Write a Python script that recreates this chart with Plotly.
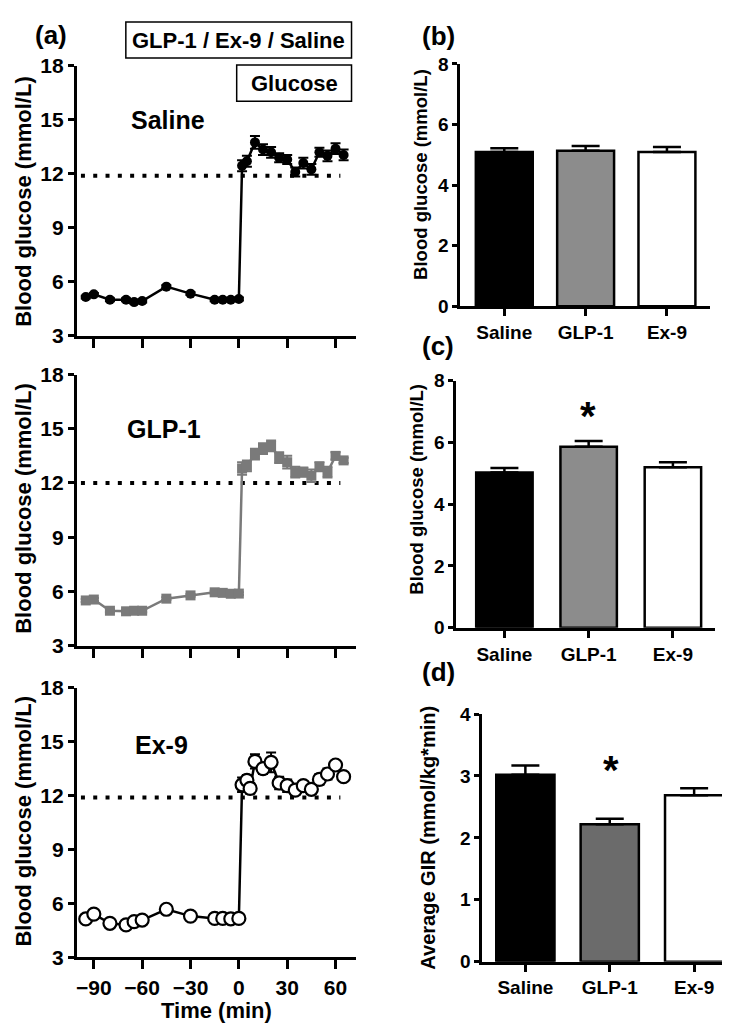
import plotly.graph_objects as go

W, H = 730, 1024
FONT = "Liberation Sans, Arial, sans-serif"

# ---------------- data: panel (a) time courses ----------------
time_pre = [-95, -90, -80, -70, -65, -60, -45, -30, -15, -10, -5, 0]
time_post_saline = [2, 5, 10, 15, 20, 25, 30, 35, 40, 45, 50, 55, 60, 65]
time_post_glp1 = [2, 5, 10, 15, 20, 25, 30, 35, 40, 45, 50, 55, 60, 65]
time_post_ex9 = [2, 5, 7, 10, 15, 20, 25, 30, 35, 40, 45, 50, 55, 60, 65]

saline_pre = [5.15, 5.3, 5.0, 5.0, 4.87, 4.93, 5.73, 5.34, 5.0, 5.0, 5.0, 5.04]
saline_pre_se = [0.08, 0.08, 0.08, 0.08, 0.08, 0.08, 0.08, 0.08, 0.08, 0.08, 0.08, 0.08]
saline_post = [12.45, 12.7, 13.75, 13.35, 13.2, 12.9, 12.8, 12.1, 12.6, 12.25, 13.2, 13.0, 13.4, 13.05]
saline_post_se = [0.3, 0.3, 0.35, 0.3, 0.3, 0.25, 0.25, 0.25, 0.3, 0.3, 0.25, 0.3, 0.3, 0.3]

glp1_pre = [5.5, 5.55, 4.93, 4.9, 4.93, 4.93, 5.6, 5.78, 5.95, 5.92, 5.87, 5.88]
glp1_pre_se = [0.08, 0.08, 0.08, 0.08, 0.08, 0.08, 0.08, 0.08, 0.08, 0.08, 0.08, 0.08]
glp1_post = [12.8, 12.95, 13.6, 13.9, 14.05, 13.4, 13.15, 12.6, 12.6, 12.4, 12.9, 12.6, 13.5, 13.25]
glp1_post_se = [0.35, 0.3, 0.3, 0.3, 0.3, 0.3, 0.35, 0.3, 0.25, 0.35, 0.25, 0.3, 0.2, 0.15]

ex9_pre = [5.14, 5.41, 4.9, 4.81, 4.99, 5.08, 5.68, 5.3, 5.17, 5.17, 5.15, 5.17]
ex9_pre_se = [0.08, 0.08, 0.08, 0.08, 0.08, 0.08, 0.08, 0.08, 0.08, 0.08, 0.08, 0.08]
ex9_post = [12.6, 12.85, 12.4, 13.9, 13.5, 13.85, 12.7, 12.55, 12.3, 12.55, 12.35, 12.9, 13.2, 13.7, 13.05]
ex9_post_se = [0.4, 0.3, 0.3, 0.4, 0.3, 0.55, 0.35, 0.35, 0.25, 0.2, 0.25, 0.3, 0.3, 0.2, 0.2]

target_x = [-98, 63]
target_levels = [11.9, 12.0, 11.9]

a_xticks = [-90, -60, -30, 0, 30, 60]
a_yticks = [3, 6, 9, 12, 15, 18]

# ---------------- data: bar panels ----------------
groups = ["Saline", "GLP-1", "Ex-9"]
b_vals = [5.09, 5.13, 5.09]
b_se = [0.13, 0.16, 0.17]
c_vals = [5.03, 5.86, 5.20]
c_se = [0.14, 0.19, 0.16]
d_vals = [3.02, 2.22, 2.69]
d_se = [0.15, 0.09, 0.11]

bc_colors = ["#000000", "#8c8c8c", "#ffffff"]
d_colors = ["#000000", "#6b6b6b", "#ffffff"]


def xdom(a, b):
    return [a / W, b / W]


def ydom(top, bottom):
    return [1 - bottom / H, 1 - top / H]


def px(x):
    return x / W


def py(y):
    return 1 - y / H


fig = go.Figure()

# ---------------- panel (a) traces ----------------
a_series = [
    ("x", "y", saline_pre + saline_post, saline_pre_se + saline_post_se,
     time_pre + time_post_saline,
     dict(symbol="circle", size=10, color="#000000"), "#000000"),
    ("x2", "y2", glp1_pre + glp1_post, glp1_pre_se + glp1_post_se,
     time_pre + time_post_glp1,
     dict(symbol="square", size=10, color="#7a7a7a"), "#7a7a7a"),
    ("x3", "y3", ex9_pre + ex9_post, ex9_pre_se + ex9_post_se,
     time_pre + time_post_ex9,
     dict(symbol="circle", size=13, color="#ffffff",
          line=dict(color="#000000", width=2.2)), "#000000"),
]

for i, (xa, ya, vals, se, times, marker, lc) in enumerate(a_series):
    # dotted target line
    fig.add_trace(go.Scatter(
        x=target_x, y=[target_levels[i]] * 2, xaxis=xa, yaxis=ya,
        mode="lines", line=dict(color="#000000", width=4, dash="4px,8.3px"),
        showlegend=False, hoverinfo="skip"))
    fig.add_trace(go.Scatter(
        x=times, y=vals, xaxis=xa, yaxis=ya, mode="lines+markers",
        line=dict(color=lc, width=2.5), marker=marker,
        error_y=dict(type="data", array=se, visible=True, color=lc,
                     thickness=2, width=5),
        cliponaxis=False, showlegend=False))

# ---------------- bar panels ----------------
bar_panels = [
    ("x4", "y4", b_vals, b_se, bc_colors, 0.7),
    ("x5", "y5", c_vals, c_se, bc_colors, 0.67),
    ("x6", "y6", d_vals, d_se, d_colors, 0.69),
]
for xa, ya, vals, se, cols, bw in bar_panels:
    fig.add_trace(go.Bar(
        x=groups, y=vals, xaxis=xa, yaxis=ya, width=bw,
        marker=dict(color=cols, line=dict(color="#000000", width=2.5)),
        error_y=dict(type="data", array=se, arrayminus=[0, 0, 0],
                     symmetric=False, visible=True, color="#000000",
                     thickness=2.5, width=14),
        showlegend=False))

# ---------------- axes ----------------
axis_common = dict(showline=True, linewidth=3, linecolor="#000000",
                   showgrid=False, zeroline=False, ticks="outside",
                   tickwidth=3, tickcolor="#000000", mirror=False)

layout = dict(
    width=W, height=H, margin=dict(l=0, r=0, t=0, b=0),
    paper_bgcolor="#ffffff", plot_bgcolor="#ffffff",
    font=dict(family=FONT, color="#000000", weight="bold"),
    showlegend=False, bargap=0.3,
)

a_tops = [(47, 323), (362.7, 640), (683, 959)]
for i, (top, bottom) in enumerate(a_tops):
    sx = "" if i == 0 else str(i + 1)
    layout["xaxis" + sx] = dict(
        axis_common, domain=xdom(68, 347), anchor="y" + sx,
        range=[-100.5, 72.4], tickvals=a_xticks, ticklen=9,
        showticklabels=(i == 2),
        tickfont=dict(size=21, family=FONT, weight="bold"))
    layout["yaxis" + sx] = dict(
        axis_common, domain=ydom(top, bottom), anchor="x" + sx,
        range=[3, 18], tickvals=a_yticks, ticklen=6,
        tickfont=dict(size=21, family=FONT, weight="bold"))

bar_geo = [
    ("4", (452, 702), (45, 292.7), [-0.54, 2.53], [0, 8], 2),
    ("5", (448, 707), (369, 621.7), [-0.57, 2.5], [0, 8], 2),
    ("6", (474, 730), (710, 963.3), [-0.51, 2.52], [0, 4], 1),
]
for sx, (xl, xr), (yt, yb), xr_, yr_, dt in bar_geo:
    layout["xaxis" + sx] = dict(
        axis_common, domain=xdom(xl, xr), anchor="y" + sx,
        range=xr_, ticklen=7, type="category",
        tickfont=dict(size=19, family=FONT, weight="bold"))
    layout["yaxis" + sx] = dict(
        axis_common, domain=ydom(yt, yb), anchor="x" + sx,
        range=yr_, dtick=dt, ticklen=5,
        tickfont=dict(size=19, family=FONT, weight="bold"))

fig.update_layout(**layout)

# ---------------- annotations ----------------
ann = []


def add_text(text, x, y, size, angle=0, xanchor="center", yanchor="middle"):
    ann.append(dict(text=text, x=px(x), y=py(y), xref="paper", yref="paper",
                    showarrow=False, textangle=angle, xanchor=xanchor,
                    yanchor=yanchor,
                    font=dict(size=size, family=FONT, color="#000000",
                              weight="bold")))


# panel letters
add_text("(a)", 42, 15, 26)
add_text("(b)", 430, 16, 26)
add_text("(c)", 430, 334, 26)
add_text("(d)", 430, 667, 26)

# axis titles (a)
add_text("Blood glucose (mmol/L)", 15, 185, 22, angle=-90)
add_text("Blood glucose (mmol/L)", 15, 499, 22, angle=-90)
add_text("Blood glucose (mmol/L)", 15, 819, 22, angle=-90)
add_text("Time (min)", 207.5, 1013, 22)

# axis titles bars
add_text("Blood glucose (mmol/L)", 412, 158, 18.5, angle=-90)
add_text("Blood glucose (mmol/L)", 408, 480, 18.5, angle=-90)
add_text("Average GIR (mmol/kg*min)", 420, 836, 20, angle=-90)

# panel names
add_text("Saline", 159, 102, 25)
add_text("GLP-1", 155, 418, 25)
add_text("Ex-9", 153, 742, 25)

# boxed labels
add_text("GLP-1 / Ex-9 / Saline", 230, 20.5, 22)
add_text("Glucose", 285.5, 64.5, 22)

# asterisks
add_text("*", 580, 405, 40)
add_text("*", 603, 767, 40)

fig.update_layout(annotations=ann)

shapes = [
    dict(type="rect", xref="paper", yref="paper",
         x0=px(117), x1=px(343), y0=py(39), y1=py(2),
         line=dict(color="#000000", width=1.5)),
    dict(type="rect", xref="paper", yref="paper",
         x0=px(228), x1=px(343), y0=py(83), y1=py(46),
         line=dict(color="#000000", width=1.5)),
]
fig.update_layout(shapes=shapes)

fig.write_html("out.html")
